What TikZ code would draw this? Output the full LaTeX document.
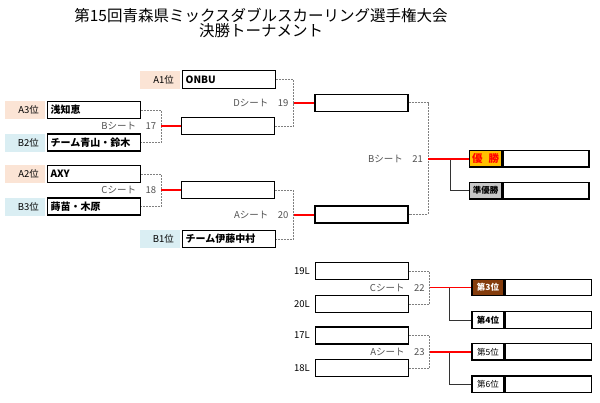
\documentclass[tikz,border=0pt]{standalone}
\usepackage{fontspec}
\setmainfont{Noto Sans CJK JP}
\usetikzlibrary{calc}
\definecolor{peach}{HTML}{FBE4D5}
\definecolor{lblue}{HTML}{DAEEF3}
\definecolor{gold}{HTML}{FFC000}
\definecolor{silver}{HTML}{C8C8C8}
\definecolor{brown3}{HTML}{843C0C}
\definecolor{txtgray}{HTML}{505050}
\begin{document}
\begin{tikzpicture}[x=1pt,y=-1pt,
  tbox/.style={draw=black,line width=1.3pt,minimum width=93pt,minimum height=17pt,inner xsep=3pt,inner ysep=0pt,text width=87pt,align=left,anchor=west,font=\fontsize{10}{11}\selectfont\bfseries},
  alab/.style={fill=peach,minimum height=18pt,inner xsep=6pt,inner ysep=0pt,text width=28pt,align=right,anchor=east,font=\fontsize{9.5}{11}\selectfont},
  blab/.style={alab,fill=lblue},
  llab/.style={anchor=east,inner sep=0pt,font=\fontsize{9.5}{11}\selectfont},
  slab/.style={anchor=east,inner sep=0pt,text=txtgray,font=\fontsize{9.5}{11}\selectfont},
  flab/.style={draw=black,line width=1.3pt,minimum width=32pt,minimum height=16.5pt,inner sep=0pt,anchor=west,font=\fontsize{8.5}{10}\selectfont\bfseries},
  fbox/.style={draw=black,line width=1.3pt,minimum width=86pt,minimum height=16.5pt,inner sep=0pt,anchor=west},
  dline/.style={draw=gray,line width=0.8pt,dash pattern=on 2pt off 1pt},
  rline/.style={draw=red,line width=1.8pt},
  kline/.style={draw=black!80,line width=0.9pt}]
\useasboundingbox (0,0) rectangle (600,402);
% title
\node[font=\fontsize{15.5}{17}\selectfont] (t1) at (261,15) {第15回青森県ミックスダブルスカーリング選手権大会};
\node[font=\fontsize{15.5}{17}\selectfont] (t2) at (261,31) {決勝トーナメント};
% first round boxes
\node[tbox,minimum height=18.5pt] (onbu) at (182,79.5) {ONBU};
\node[tbox] (asachie) at (47,110) {浅知恵};
\node[tbox] (aoyama) at (47,142.5) {チーム青山・鈴木};
\node[tbox] (axy) at (47,174) {AXY};
\node[tbox] (makanae) at (47,206.5) {蒔苗・木原};
\node[tbox] (ito) at (182,239) {チーム伊藤中村};
% seed labels
\node[alab] (la1) at ($(onbu.west)+(-2,0)$) {A1位};
\node[alab] (la3) at ($(asachie.west)+(-2,0)$) {A3位};
\node[blab] (lb2) at ($(aoyama.west)+(-2,0)$) {B2位};
\node[alab] (la2) at ($(axy.west)+(-2,0)$) {A2位};
\node[blab] (lb3) at ($(makanae.west)+(-2,0)$) {B3位};
\node[blab] (lb1) at ($(ito.west)+(-2,0)$) {B1位};
% game 17
\coordinate (j17) at ($(asachie.east)!0.5!(aoyama.east)+(20,0)$);
\draw[dline] (asachie.east) -| (j17) |- (aoyama.east);
\node[tbox] (w17) at ($(j17)+(19.5,0)$) {};
\draw[rline] (j17) -- (w17.west);
\node[slab] (s17) at ($(j17)+(-5,0)$) {Bシート　17};
% game 18
\coordinate (j18) at ($(axy.east)!0.5!(makanae.east)+(20,0)$);
\draw[dline] (axy.east) -| (j18) |- (makanae.east);
\node[tbox] (w18) at ($(j18)+(19.5,0)$) {};
\draw[rline] (j18) -- (w18.west);
\node[slab] (s18) at ($(j18)+(-5,0)$) {Cシート　18};
% game 19
\coordinate (j19) at ($(onbu.east)!0.5!(w17.east)+(18,0)$);
\draw[dline] (onbu.east) -| (j19) |- (w17.east);
\node[tbox] (w19) at ($(j19)+(20.5,0)$) {};
\draw[rline] (j19) -- (w19.west);
\node[slab] (s19) at ($(j19)+(-5,0)$) {Dシート　19};
% game 20
\coordinate (j20) at ($(w18.east)!0.5!(ito.east)+(18,0)$);
\draw[dline] (w18.east) -| (j20) |- (ito.east);
\node[tbox] (w20) at ($(j20)+(20.5,0)$) {};
\draw[rline] (j20) -- (w20.west);
\node[slab] (s20) at ($(j20)+(-5,0)$) {Aシート　20};
% game 21 (final)
\coordinate (j21) at ($(w19.east)!0.5!(w20.east)+(19.5,0)$);
\draw[dline] (w19.east) -| (j21) |- (w20.east);
\node[flab,fill=gold,text=red,font=\fontsize{10.5}{12}\selectfont\bfseries] (yu) at ($(j21)+(41,0)$) {優\hspace{6pt}勝};
\node[fbox] (yub) at (yu.east) {};
\node[flab,fill=silver] (jun) at ($(yu.west)+(0,32)$) {準優勝};
\node[fbox] (junb) at (jun.east) {};
\coordinate (b21) at ($(j21)+(22,0)$);
\draw[kline] (b21) |- (jun.west);
\draw[rline] (j21) -- (yu.west);
\node[slab] (s21) at ($(j21)+(-5,0)$) {Bシート　21};
% placement games
\node[tbox] (l19) at (315,271) {};
\node[tbox] (l20) at (315,304) {};
\node[tbox] (l17) at (315,335.5) {};
\node[tbox] (l18) at (315,368) {};
\node[llab] (n19) at ($(l19.west)+(-5,0)$) {19L};
\node[llab] (n20) at ($(l20.west)+(-5,0)$) {20L};
\node[llab] (n17) at ($(l17.west)+(-5,0)$) {17L};
\node[llab] (n18) at ($(l18.west)+(-5,0)$) {18L};
% game 22
\coordinate (j22) at ($(l19.east)!0.5!(l20.east)+(20.5,0)$);
\draw[dline] (l19.east) -| (j22) |- (l20.east);
\node[flab,fill=brown3,text=white] (p3) at ($(j22)+(41.5,0)$) {第3位};
\node[fbox] (p3b) at (p3.east) {};
\node[flab,fill=white] (p4) at ($(p3.west)+(0,32.5)$) {第4位};
\node[fbox] (p4b) at (p4.east) {};
\coordinate (b22) at ($(j22)+(20,0)$);
\draw[kline] (b22) |- (p4.west);
\draw[rline] (j22) -- (p3.west);
\node[slab] (s22) at ($(j22)+(-5,0)$) {Cシート　22};
% game 23
\coordinate (j23) at ($(l17.east)!0.5!(l18.east)+(20.5,0)$);
\draw[dline] (l17.east) -| (j23) |- (l18.east);
\node[flab,fill=white,font=\fontsize{8.5}{10}\selectfont] (p5) at ($(j23)+(41.5,0)$) {第5位};
\node[fbox] (p5b) at (p5.east) {};
\node[flab,fill=white,font=\fontsize{8.5}{10}\selectfont] (p6) at ($(p5.west)+(0,32.5)$) {第6位};
\node[fbox] (p6b) at (p6.east) {};
\coordinate (b23) at ($(j23)+(20,0)$);
\draw[kline] (b23) |- (p6.west);
\draw[rline] (j23) -- (p5.west);
\node[slab] (s23) at ($(j23)+(-5,0)$) {Aシート　23};
\end{tikzpicture}
\end{document}
